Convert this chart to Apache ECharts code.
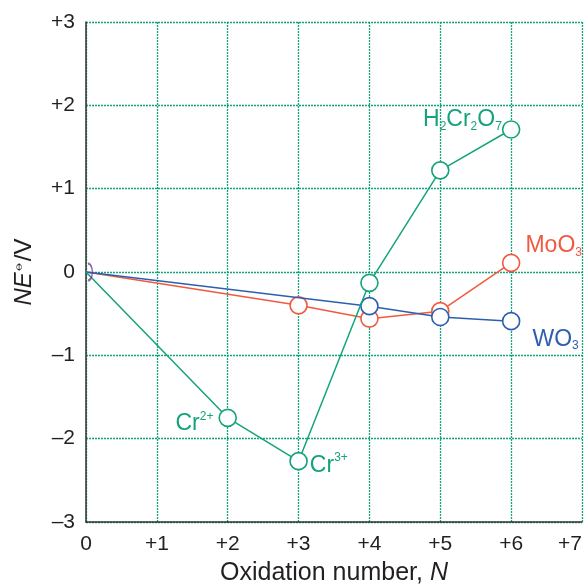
<!DOCTYPE html>
<html><head><meta charset="utf-8">
<script src="https://cdn.jsdelivr.net/npm/echarts@6/dist/echarts.min.js"></script>
<style>html,body{margin:0;padding:0;background:#fff}#c{width:585px;height:585px}</style>
</head><body><div id="c"></div>
<script>
const xTicks = [0,1,2,3,4,5,6,7];
const yTicks = [-3,-2,-1,0,1,2,3];
const crN = [0,2,3,4,5,6];
const crE = [0,-1.75,-2.27,-0.13,1.22,1.71];
const moN = [0,3,4,5,6];
const moE = [0,-0.40,-0.56,-0.47,0.11];
const wN = [0,4,5,6];
const wE = [0,-0.41,-0.54,-0.59];

const GREEN = '#14a37c', RED = '#ef5a40', BLUE = '#2c5fae', TXT = '#231f20';
const FONT = '"Liberation Sans", Arial, sans-serif';
function sign(v){ return v>0 ? '+'+v : (v<0 ? '\u2013'+Math.abs(v) : '0'); }
const rich = (c)=>({
  m:{fontSize:23, color:c, fontFamily:FONT, lineHeight:26},
  sub:{fontSize:12, color:c, fontFamily:FONT, verticalAlign:'bottom', lineHeight:12},
  sup:{fontSize:12, color:c, fontFamily:FONT, verticalAlign:'top', lineHeight:12}
});
function lab(text, pos, off, c){ return {show:true, position:pos, offset:off, formatter:text, rich:rich(c)}; }
function build(xs, ys, labels){
  return xs.map((x,i)=>{
    const d = {value:[x, ys[i]]};
    if (i===0) d.symbol = 'none';
    if (labels[i]) d.label = labels[i];
    return d;
  });
}
const crData = build(crN, crE, {
  1: lab('{m|Cr}{sup|2+}', 'left', [0,6], GREEN),
  2: lab('{m|Cr}{sup|3+}', 'right', [-3,4], GREEN),
  5: lab('{m|H}{sub|2}{m|Cr}{sub|2}{m|O}{sub|7}', 'left', [5,-10], GREEN)
});
const moData = build(moN, moE, {4: lab('{m|MoO}{sub|3}', 'right', [0,-17], RED)});
const wData = build(wN, wE, {3: lab('{m|WO}{sub|3}', 'right', [7,18], BLUE)});

function lineSeries(name, data, c, z){
  return {type:'line', name:name, data:data, z:z, symbol:'circle', symbolSize:17,
    lineStyle:{color:c, width:1.5}, itemStyle:{color:'#fff', borderColor:c, borderWidth:1.6}};
}

const chart = echarts.init(document.getElementById('c'), null, {renderer:'canvas'});
chart.setOption({
  animation:false,
  grid:{left:86, right:3, top:22, bottom:63, outerBoundsMode:'none', containLabel:false},
  xAxis:{type:'value', min:0, max:7, interval:1,
    axisLine:{show:true, onZero:false, lineStyle:{color:'#333', width:1.5}},
    axisTick:{show:false},
    axisLabel:{formatter:sign, fontSize:21, color:TXT, fontFamily:FONT, margin:12, alignMaxLabel:'right'},
    splitLine:{show:true, lineStyle:{color:GREEN, width:1.3, type:[2,1]}},
    name:'{a|Oxidation number, }{b|N}', nameLocation:'middle', nameGap:39,
    nameTextStyle:{rich:{a:{fontSize:25, color:TXT, fontFamily:FONT}, b:{fontSize:25, color:TXT, fontFamily:FONT, fontStyle:'italic'}}}
  },
  yAxis:{type:'value', min:-3, max:3, interval:1,
    axisLine:{show:true, onZero:false, lineStyle:{color:'#333', width:1.5}},
    axisTick:{show:false},
    axisLabel:{formatter:sign, fontSize:21, color:TXT, fontFamily:FONT, margin:11},
    splitLine:{show:true, lineStyle:{color:GREEN, width:1.3, type:[2,1]}},
    name:'{b|NE}{c|\u29b5}{a|/V}', nameLocation:'middle', nameGap:50, nameRotate:90,
    nameTextStyle:{rich:{a:{fontSize:24, color:TXT, fontFamily:FONT}, b:{fontSize:24, color:TXT, fontFamily:FONT, fontStyle:'italic'}, c:{fontSize:13, color:TXT, fontFamily:'"DejaVu Sans", sans-serif', verticalAlign:'top', lineHeight:13}}}
  },
  series:[
    lineSeries('Mo', moData, RED, 3),
    lineSeries('W', wData, BLUE, 4),
    lineSeries('Cr', crData, GREEN, 5),
    {type:'scatter', data:[[0,0]], z:6, symbol:'path://M0,0 C5.5,0 10,4.5 10,10 C10,15.5 5.5,20 0,20', symbolSize:[8.5,17], symbolOffset:[4.25,0], symbolKeepAspect:true,
     itemStyle:{color:'rgba(0,0,0,0)', borderColor:'#6a3a9e', borderWidth:1.8}}
  ]
});
</script></body></html>
